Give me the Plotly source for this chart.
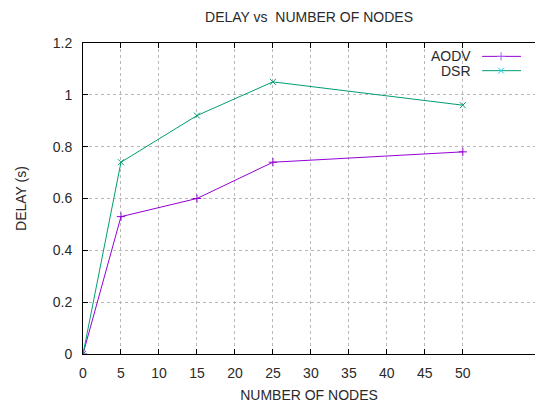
import plotly.graph_objects as go

# Simulation results: average end-to-end delay vs network size
nodes = [0, 5, 15, 25, 50]
aodv_delay = [0, 0.53, 0.60, 0.74, 0.78]
dsr_delay = [0, 0.74, 0.92, 1.05, 0.96]

x_ticks = [0, 5, 10, 15, 20, 25, 30, 35, 40, 45, 50]
y_ticks = [0, 0.2, 0.4, 0.6, 0.8, 1.0, 1.2]
y_tick_text = ["0", "0.2", "0.4", "0.6", "0.8", "1", "1.2"]

series = [
    ("AODV", aodv_delay, "#9400d3", "cross-thin-open"),
    ("DSR", dsr_delay, "#009e73", "x-thin-open"),
]

FONT = "Liberation Sans, Arial, sans-serif"
TEXT = "#2a2a2a"
FS = 14
GRID = "#b8b8b8"

fig = go.Figure()
for name, vals, color, sym in series:
    fig.add_trace(go.Scatter(
        x=nodes, y=vals, name=name, mode="lines+markers",
        line=dict(color=color, width=1),
        marker=dict(symbol=sym, size=6, line=dict(color=color, width=1)),
        showlegend=False,
    ))

# gnuplot-style key: label on the left, sample line with point on the right
key_rows = [0.957, 0.911]
for (name, vals, color, sym), ky in zip(series, key_rows):
    fig.add_trace(go.Scatter(
        x=[0.883, 0.969], y=[ky, ky], xaxis="x2", yaxis="y2",
        mode="lines", line=dict(color=color, width=1),
        showlegend=False, hoverinfo="skip",
    ))
    fig.add_trace(go.Scatter(
        x=[0.925], y=[ky], xaxis="x2", yaxis="y2",
        mode="markers",
        marker=dict(symbol=sym, size=6, line=dict(color=color, width=1)),
        showlegend=False, hoverinfo="skip",
    ))
    fig.add_annotation(
        x=0.863, y=ky, xref="paper", yref="paper",
        text=name, showarrow=False, xanchor="right", yanchor="middle",
        font=dict(family=FONT, size=FS, color=TEXT),
    )

fig.update_layout(
    width=535, height=403,
    margin=dict(l=83, r=0, t=43, b=47),
    paper_bgcolor="white", plot_bgcolor="white",
    title=dict(text="DELAY vs  NUMBER OF NODES", x=(83 + 535) / 2 / 535, xanchor="center",
               y=1 - 17 / 403, yanchor="middle",
               font=dict(family=FONT, size=FS, color=TEXT)),
    font=dict(family=FONT, size=FS, color=TEXT),
    xaxis=dict(
        range=[0, 59.5], tickvals=x_ticks, ticks="inside", ticklen=5,
        tickcolor="black", showline=True, linecolor="black", linewidth=1,
        mirror="allticks", showgrid=True, gridcolor=GRID, griddash="dot",
        gridwidth=1, zeroline=False, ticklabelstandoff=6,
        title=dict(text="NUMBER OF NODES", standoff=12,
                   font=dict(family=FONT, size=FS, color=TEXT)),
    ),
    yaxis=dict(
        range=[0, 1.2], tickvals=y_ticks, ticktext=y_tick_text, ticks="inside",
        ticklen=5, tickcolor="black", showline=True, linecolor="black",
        linewidth=1, showgrid=True, gridcolor=GRID, griddash="dot",
        gridwidth=1, zeroline=False, ticklabelstandoff=7,
        title=dict(text="DELAY (s)", standoff=22,
                   font=dict(family=FONT, size=FS, color=TEXT)),
    ),
    xaxis2=dict(overlaying="x", range=[0, 1], visible=False, fixedrange=True),
    yaxis2=dict(overlaying="y", range=[0, 1], visible=False, fixedrange=True),
)

fig.write_html("out.html")
